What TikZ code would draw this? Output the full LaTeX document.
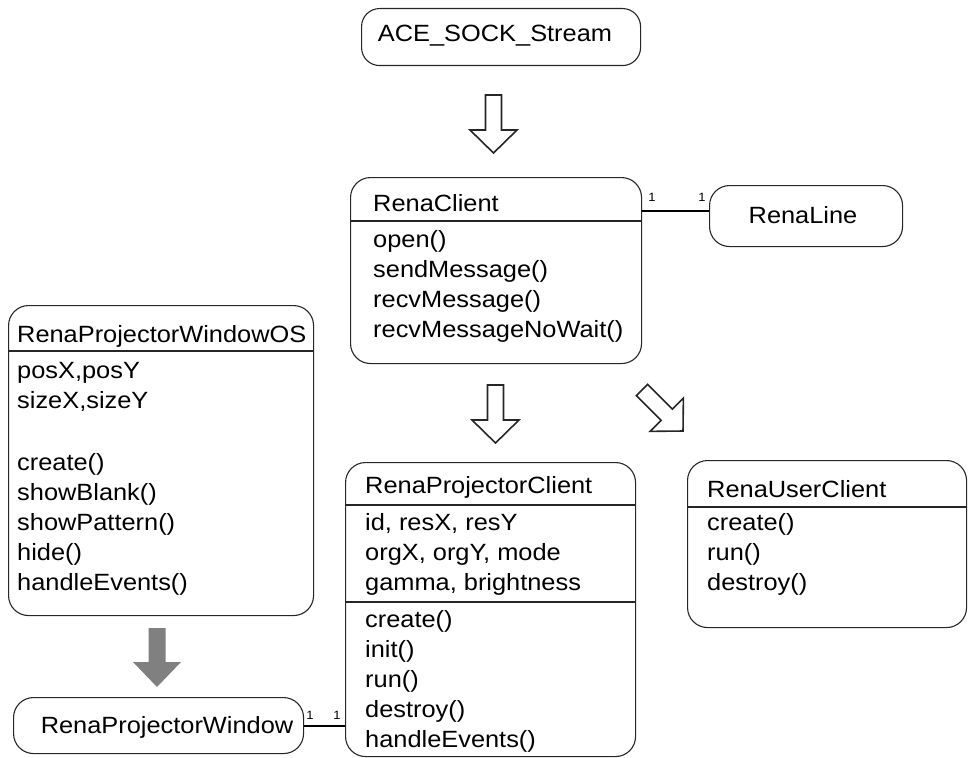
\documentclass[tikz,border=0pt]{standalone}
\usepackage{fontspec}
\setmainfont{Liberation Sans}[FakeStretch=1.08]
\usetikzlibrary{calc}
\begin{document}
\begin{tikzpicture}[x=1pt,y=-1pt, font=\fontsize{23.5}{30}\selectfont,
  box/.style={draw=black!85, line width=1.1pt, rounded corners=20pt, inner sep=0pt, anchor=north west},
  lbl/.style={anchor=base west, inner sep=0pt},
  ttl/.style={anchor=base, inner sep=0pt},
  sep/.style={draw=black!85, line width=1.1pt},
  assoc/.style={draw=black, line width=2pt},
  mult/.style={font=\fontsize{12}{13}\selectfont, inner sep=0pt},
  hollow/.pic={\draw[line width=1.6pt, draw=black!85, fill=white, line join=miter]
     (-8,0) -- (8,0) -- (8,35) -- (23.5,35) -- (0,58) -- (-23.5,35) -- (-8,35) -- cycle;},
  solidarrow/.pic={\fill[black!50]
     (-8.5,0) -- (8.5,0) -- (8.5,34) -- (24,34) -- (0,59) -- (-24,34) -- (-8.5,34) -- cycle;},
]
\useasboundingbox (0,0) rectangle (968,757);

% ACE_SOCK_Stream
\node[box, rounded corners=18pt, minimum width=279pt, minimum height=57pt] (ace) at (361,8) {};
\node[ttl] (aceT) at (495,42) {ACE\_SOCK\_Stream};
\pic at (493.5,95) {hollow};

% RenaClient
\node[box, minimum width=291pt, minimum height=186pt] (rc) at (350,177) {};
\node[lbl] (rcT) at (373,211) {RenaClient};
\draw[sep] (rc.west |- 0,221) -- (rc.east |- 0,221);
\foreach \t [count=\i from 0] in {open(),sendMessage(),recvMessage(),recvMessageNoWait()}
  \node[lbl] (rc\i) at (373,247+30*\i) {\t};

% RenaLine
\node[box, minimum width=193pt, minimum height=61pt] (rl) at (709,185) {};
\node[ttl] (rlT) at (803,223) {RenaLine};
\coordinate (rlc) at ($(rl.west)+(0,-5.5)$);
\draw[assoc] (rc.east |- rlc) -- (rlc);
\node[mult] (m1) at (652,197) {1};
\node[mult] (m2) at (702,197) {1};

% inheritance arrows below RenaClient
\pic at (495.5,385) {hollow};
\pic[rotate=45] at (642,390) {hollow};

% RenaProjectorWindowOS
\node[box, minimum width=305pt, minimum height=310pt] (os) at (8,305) {};
\node[lbl] (osT) at (17,342) {RenaProjectorWindowOS};
\draw[sep] (os.west |- 0,351) -- (os.east |- 0,351);
\foreach \t [count=\i from 0] in {{posX,posY},{sizeX,sizeY}}
  \node[lbl] (osa\i) at (17,378+30*\i) {\t};
\foreach \t [count=\i from 0] in {create(),showBlank(),showPattern(),hide(),handleEvents()}
  \node[lbl] (osm\i) at (17,470+30*\i) {\t};

% gray arrow
\pic at (157,628) {solidarrow};

% RenaProjectorWindow
\node[box, minimum width=290pt, minimum height=56pt] (rpw) at (13,697) {};
\node[ttl] (rpwT) at (167,733) {RenaProjectorWindow};

% RenaProjectorClient
\node[box, minimum width=290pt, minimum height=294pt] (rpc) at (345,462) {};
\node[lbl] (rpcT) at (365,493) {RenaProjectorClient};
\draw[sep] (rpc.west |- 0,505) -- (rpc.east |- 0,505);
\draw[sep] (rpc.west |- 0,602) -- (rpc.east |- 0,602);
\foreach \t [count=\i from 0] in {{id, resX, resY},{orgX, orgY, mode},{gamma, brightness}}
  \node[lbl] (rpca\i) at (365,530+30*\i) {\t};
\foreach \t [count=\i from 0] in {create(),init(),run(),destroy(),handleEvents()}
  \node[lbl] (rpcm\i) at (365,627+30*\i) {\t};

\draw[assoc] (rpw.east) -- (rpw.east -| rpc.west);
\node[mult] (m3) at (310,715) {1};
\node[mult] (m4) at (337,715) {1};

% RenaUserClient
\node[box, minimum width=279pt, minimum height=167pt] (ruc) at (687,460) {};
\node[lbl] (rucT) at (707,497) {RenaUserClient};
\draw[sep] (ruc.west |- 0,507) -- (ruc.east |- 0,507);
\foreach \t [count=\i from 0] in {create(),run(),destroy()}
  \node[lbl] (ruc\i) at (707,530+30*\i) {\t};
\end{tikzpicture}
\end{document}
